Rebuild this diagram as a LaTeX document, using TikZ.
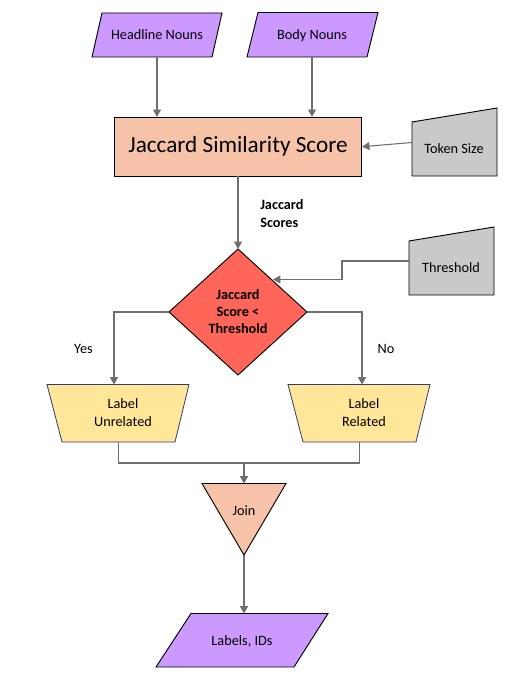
\documentclass[tikz,border=0pt]{standalone}
\usepackage{fontspec}
\setmainfont{Carlito}
\usetikzlibrary{arrows.meta}
\definecolor{purp}{HTML}{CC99FF}
\definecolor{salmon}{HTML}{F6C3A8}
\definecolor{grayfill}{HTML}{C9C9C9}
\definecolor{redd}{HTML}{FF6659}
\definecolor{yell}{HTML}{FFE699}
\definecolor{arrowgray}{HTML}{6E6E6E}
\definecolor{trapedge}{HTML}{2F3D6B}
\tikzset{
  outline/.style={draw=black, line width=0.7pt},
  txt/.style={inner sep=0pt, align=center},
  conn/.style={draw=arrowgray, line width=0.8pt, -{Triangle[length=5.5pt,width=6pt]}},
  plain/.style={draw=arrowgray, line width=0.8pt},
}
\begin{document}
\begin{tikzpicture}[x=0.75pt,y=-0.75pt, font=\fontsize{10.7pt}{12.9pt}\selectfont]
\useasboundingbox (0,0) rectangle (524,684);

% Headline Nouns
\filldraw[outline, fill=purp] (102,13) -- (222,13) -- (212,57) -- (92,57) -- cycle;
\node[txt] (hn) at (157,35) {Headline Nouns};
\coordinate (hnb) at (157,57);
% Body Nouns
\filldraw[outline, fill=purp] (258,12.5) -- (378,12.5) -- (367,57) -- (247,57) -- cycle;
\node[txt] (bn) at (312,35.5) {Body Nouns};
\coordinate (bnb) at (312,57);

% Jaccard box
\node[outline, fill=salmon, minimum width=185.5pt, minimum height=44pt, inner sep=0pt,
      font=\fontsize{17.4pt}{20pt}\selectfont] (jac) at (238,146.7) {Jaccard Similarity Score};

% Token Size
\filldraw[outline, fill=grayfill] (412,122) -- (497,108) -- (497,176) -- (412,176) -- cycle;
\node[txt] (tok) at (454,149) {Token Size};
\coordinate (tokw) at (412,142.5);

\draw[conn] (hnb) -- (hnb |- jac.north);
\draw[conn] (bnb) -- (bnb |- jac.north);
\draw[conn] (tokw) -- (jac.east);

% Diamond
\filldraw[outline, fill=redd] (238,249) -- (307,312) -- (238,375) -- (169,312) -- cycle;
\coordinate (dtop) at (238,249);
\coordinate (dleft) at (169,312);
\coordinate (dright) at (307,312);
\coordinate (dedge) at (273,279.5);
\node[txt, font=\fontsize{10.7pt}{12.9pt}\selectfont\bfseries] (dia) at (238,311.5) {Jaccard\\Score <\\Threshold};

\draw[conn] (jac.south) -- (dtop);
\node[txt, align=left, anchor=west, font=\fontsize{10.7pt}{12.9pt}\selectfont\bfseries] (js) at (260,213.5) {Jaccard\\Scores};

% Threshold
\filldraw[outline, fill=grayfill] (409,241) -- (494,227) -- (494,295) -- (409,295) -- cycle;
\node[txt] (thr) at (451,268) {Threshold};
\coordinate (thrw) at (409,261);
\draw[conn] (thrw) -- (342,261) -- (342,279.5) -- (dedge);

% Label Unrelated
\filldraw[draw=trapedge, line width=0.6pt, fill=yell] (47,384.5) -- (189,384.5) -- (175,442) -- (62,442) -- cycle;
\node[txt] (lu) at (123,412.5) {Label\\Unrelated};
\coordinate (lut) at (114,384.5);
\coordinate (lub) at (118.5,442);
% Label Related
\filldraw[draw=trapedge, line width=0.6pt, fill=yell] (288,384.5) -- (430,384.5) -- (416,442) -- (303,442) -- cycle;
\node[txt] (lr) at (364,412.5) {Label\\Related};
\coordinate (lrt) at (362,384.5);
\coordinate (lrb) at (359.5,442);

\draw[conn] (dleft) -- (lut |- dleft) -- (lut);
\draw[conn] (dright) -- (lrt |- dright) -- (lrt);
\node[txt] (yes) at (83.5,348.5) {Yes};
\node[txt] (no) at (386,348.5) {No};

% Join
\filldraw[outline, fill=salmon] (202,483.5) -- (286,483.5) -- (244,555) -- cycle;
\node[txt] (join) at (244,511) {Join};
\coordinate (jtop) at (244,483.5);
\coordinate (jbot) at (244,555);
\coordinate (merge) at (244,463);
\draw[plain] (lub) -- (lub |- merge) -- (lrb |- merge) -- (lrb);
\draw[conn] (merge) -- (jtop);

% Labels, IDs
\filldraw[outline, fill=purp] (191,613.5) -- (328,613.5) -- (294,667) -- (156,667) -- cycle;
\node[txt] (lid) at (242,641) {Labels, IDs};
\coordinate (lidt) at (244,613.5);
\draw[conn] (jbot) -- (lidt);
\end{tikzpicture}
\end{document}
